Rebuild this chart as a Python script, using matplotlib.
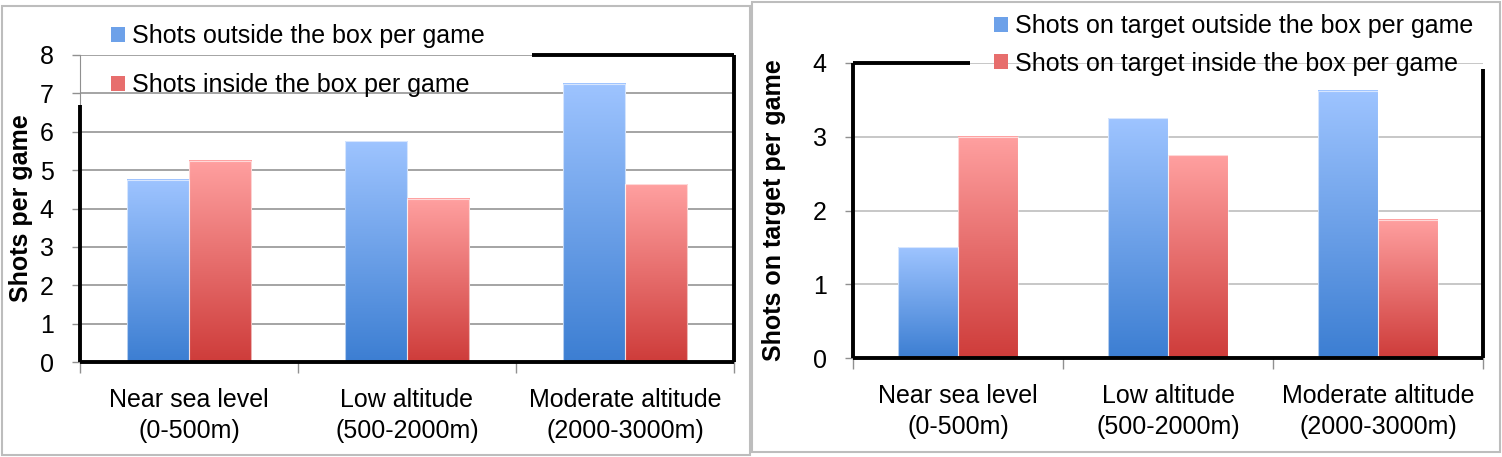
import numpy as np
import matplotlib
matplotlib.use("Agg")
import matplotlib.pyplot as plt
from matplotlib.patches import Patch, Rectangle

plt.rcParams['font.family'] = ['Liberation Sans', 'DejaVu Sans']

# data
categories = ['Near sea level\n(0-500m)', 'Low altitude\n(500-2000m)', 'Moderate altitude\n(2000-3000m)']
shots_outside = [4.75, 5.75, 7.25]
shots_inside = [5.25, 4.25, 4.63]
target_outside = [1.5, 3.25, 3.625]
target_inside = [3.0, 2.75, 1.875]
legend_left = ['Shots outside the box per game', 'Shots inside the box per game']
legend_right = ['Shots on target outside the box per game', 'Shots on target inside the box per game']

W, H = 1502, 457
FS = 18
fig = plt.figure(figsize=(W / 100, H / 100), dpi=100)

def fx(px):
    return px / W

def fy(py):
    return 1 - py / H

BLUE_TOP, BLUE_BOT = np.array([158, 196, 255]) / 255, np.array([60, 126, 210]) / 255
RED_TOP, RED_BOT = np.array([255, 160, 160]) / 255, np.array([206, 60, 58]) / 255


def gradient_bars(ax, bars, top, bot):
    grad = np.linspace(0, 1, 256)[:, None, None]
    img = top * (1 - grad) + bot * grad
    for b in bars:
        x, w, h = b.get_x(), b.get_width(), b.get_height()
        ax.imshow(img, extent=[x, x + w, 0, h], aspect='auto', origin='upper', zorder=2)
        b.set_facecolor('none')
        b.set_edgecolor((1, 1, 1, 0.6))
        b.set_linewidth(0.8)
        b.set_zorder(3)


def panel(rect_px, box_px, ymax, v1, v2, leg_labels, ylabel, grid_col, ylab_x, leg_pos, leg_space):
    l, t, r, b = rect_px
    ax = fig.add_axes([fx(l), fy(b), fx(r - l), fy(t) - fy(b)])
    bl, bt, br, bb = box_px
    fig.patches.append(Rectangle((fx(bl), fy(bb)), fx(br - bl), fy(bt) - fy(bb),
                                 transform=fig.transFigure, fill=False,
                                 edgecolor='#bdbdbd', linewidth=1.5))
    x = np.arange(len(categories))
    w = 1 / 3.5
    b1 = ax.bar(x - w / 2, v1, w)
    b2 = ax.bar(x + w / 2, v2, w)
    gradient_bars(ax, b1, BLUE_TOP, BLUE_BOT)
    gradient_bars(ax, b2, RED_TOP, RED_BOT)
    ax.set_xlim(-0.5, len(categories) - 0.5)
    ax.set_ylim(0, ymax)
    ax.set_yticks(range(0, ymax + 1))
    ax.yaxis.grid(True, color=grid_col, linewidth=1.1, zorder=0)
    ax.set_axisbelow(True)
    ax.set_xticks(np.arange(-0.5, len(categories), 1.0))
    ax.set_xticklabels([])
    ax.set_xticks(x, categories, minor=True)
    ax.tick_params(axis='x', which='major', length=8, color='#909090', width=1)
    ax.tick_params(axis='x', which='minor', length=0, pad=19, labelsize=FS)
    ax.tick_params(axis='y', length=6, color='#909090', width=1, pad=13, labelsize=FS)
    for lab in ax.get_xticklabels(minor=True):
        lab.set_linespacing(1.35)
    for s in ['top', 'right']:
        ax.spines[s].set_visible(False)
    for s in ['left', 'bottom']:
        ax.spines[s].set_color('#909090')
    ax.set_ylabel(ylabel, fontsize=FS, fontweight='bold')
    ax.yaxis.set_label_coords(ylab_x, 0.5)
    handles = [Patch(facecolor=(BLUE_TOP + BLUE_BOT) / 2, label=leg_labels[0]),
               Patch(facecolor=(RED_TOP + RED_BOT) / 2, label=leg_labels[1])]
    ax.legend(handles=handles, loc='upper left', bbox_to_anchor=(fx(leg_pos[0]), fy(leg_pos[1])),
              bbox_transform=fig.transFigure, frameon=False, fontsize=FS,
              handlelength=0.55, handleheight=0.55, handletextpad=0.3,
              borderpad=0, borderaxespad=0, labelspacing=leg_space)
    return ax


ax1 = panel((80, 55, 734, 362), (2, 6, 750, 455), 8, shots_outside, shots_inside, legend_left,
            'Shots per game', '#8c8c8c', -0.072, (111, 24), 1.0)
ax2 = panel((853, 63, 1483, 358), (752, 2, 1500, 452), 4, target_outside, target_inside, legend_right,
            'Shots on target per game', '#b8b8b8', -0.106, (994, 14), 0.55)

# black highlight segments
kw = dict(color='black', linewidth=2.8, clip_on=False, zorder=5, solid_capstyle='butt')
ax1.plot([0, 0], [0, 6.7], transform=ax1.get_yaxis_transform(), **kw)
ax1.plot([0, 1], [0, 0], transform=ax1.get_yaxis_transform(), **kw)
ax1.plot([1, 1], [0, 8], transform=ax1.get_yaxis_transform(), **kw)
ax1.plot([0.691, 1], [8, 8], transform=ax1.get_yaxis_transform(), **kw)

ax2.plot([0, 0], [0, 4], transform=ax2.get_yaxis_transform(), **kw)
ax2.plot([0, 1], [0, 0], transform=ax2.get_yaxis_transform(), **kw)
ax2.plot([1, 1], [0, 3.92], transform=ax2.get_yaxis_transform(), **kw)
ax2.plot([0, 0.186], [4, 4], transform=ax2.get_yaxis_transform(), **kw)

fig.savefig('out.png', dpi=100)
